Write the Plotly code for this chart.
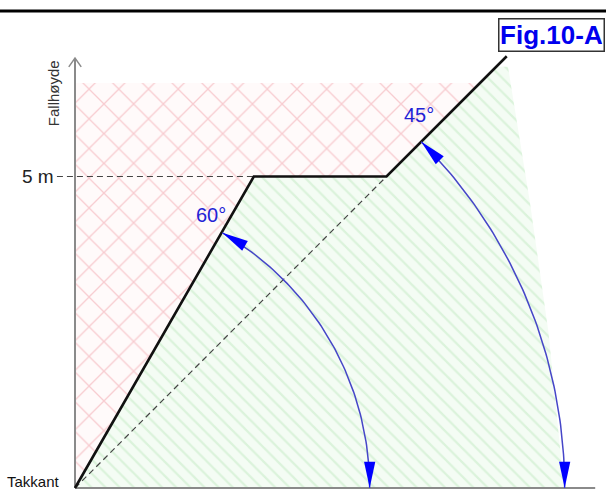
"""
Fall-height diagram (Fig.10-A): roof edge profile with 60 deg / 45 deg
limits, red cross-hatched danger zone and green hatched safe zone.
"""

import numpy as np
import plotly.graph_objects as go

# Scene scale: metres, origin at the roof edge ("Takkant").
# Profile of the black boundary line.
PROFILE_X = [0.0, 2.87, 5.0, 6.93]
PROFILE_Y = [0.0, 5.0, 5.0, 6.93]

# 45 deg reference (dashed) from the edge to the 5 m level.
DIAG_X = [0.0, 5.0]
DIAG_Y = [0.0, 5.0]

HEIGHT_MARK = 5.0
HEIGHT_LABEL = "5 m"

# Zones.
RED_X = [0.0, 0.0, 6.5, 5.0, 2.87, 0.0]
RED_Y = [0.0, 6.5, 6.5, 5.0, 5.0, 0.0]
GREEN_X = [0.0, 2.87, 5.0, 6.76, 6.95, 7.3, 7.6, 7.85, 0.0]
GREEN_Y = [0.0, 5.0, 5.0, 6.76, 6.76, 4.6, 2.5, 0.0, 0.0]

# Angle arcs.
ARC_ANGLES = [60, 45]
ARC_RADII = [4.73, 7.86]
ARC_LABELS = ["60°", "45°"]
ARC_LABEL_POS = [(2.18, 4.39), (5.52, 5.99)]

# Axes.
AXIS_X_END = 8.35
AXIS_Y_END = 6.9

PX_PER_M = 62.3
W, H = 606, 491
ORIGIN_PX = (75, 488)

FONT = "Arial, Liberation Sans, sans-serif"
ARC_COLOR = "rgb(70,70,200)"
HEAD_COLOR = "#0000ff"


def arrow_head(tip, direction, length=0.42, half_width=0.09):
    """Triangle (in data units) with its point at tip, pointing along direction."""
    d = np.array(direction, dtype=float)
    d /= np.linalg.norm(d)
    n = np.array([-d[1], d[0]])
    tip = np.array(tip, dtype=float)
    base = tip - d * length
    pts = [tip, base + n * half_width, base - n * half_width, tip]
    return [p[0] for p in pts], [p[1] for p in pts]


def build_figure():
    fig = go.Figure()

    # Red (danger) zone, cross hatched.
    fig.add_trace(go.Scatter(
        x=RED_X, y=RED_Y, mode="lines", fill="toself",
        line=dict(width=0), fillcolor="rgba(255,246,247,0.6)",
        fillpattern=dict(shape="x", size=21, solidity=0.12,
                         fgcolor="rgba(232,105,120,0.65)", fillmode="overlay"),
        hoverinfo="skip",
    ))

    # Green (safe) zone, single hatch.
    fig.add_trace(go.Scatter(
        x=GREEN_X, y=GREEN_Y, mode="lines", fill="toself",
        line=dict(width=0), fillcolor="rgba(240,251,240,0.7)",
        fillpattern=dict(shape="\\", size=10, solidity=0.22,
                         fgcolor="rgba(160,220,160,0.6)", fillmode="overlay"),
        hoverinfo="skip",
    ))

    # Dashed helper lines.
    dash = dict(color="#444444", width=1.2, dash="6px,4px")
    fig.add_trace(go.Scatter(x=DIAG_X, y=DIAG_Y, mode="lines", line=dash,
                             hoverinfo="skip"))
    fig.add_trace(go.Scatter(x=[-0.29, PROFILE_X[1]],
                             y=[HEIGHT_MARK, HEIGHT_MARK],
                             mode="lines", line=dash, hoverinfo="skip"))

    # Axes with open arrow on the vertical one.
    axis = dict(color="#8a8a8a", width=2)
    fig.add_trace(go.Scatter(x=[0, 0], y=[0, AXIS_Y_END], mode="lines",
                             line=axis, hoverinfo="skip"))
    fig.add_trace(go.Scatter(x=[0, AXIS_X_END], y=[0, 0], mode="lines",
                             line=axis, hoverinfo="skip"))
    fig.add_trace(go.Scatter(x=[-0.1, 0, 0.1],
                             y=[AXIS_Y_END - 0.14, AXIS_Y_END, AXIS_Y_END - 0.14],
                             mode="lines", line=dict(color="#8a8a8a", width=1.5),
                             hoverinfo="skip"))

    # Boundary profile.
    fig.add_trace(go.Scatter(x=PROFILE_X, y=PROFILE_Y, mode="lines",
                             line=dict(color="#111111", width=2.6),
                             hoverinfo="skip"))

    # Angle arcs with arrow heads on both ends.
    for ang, r in zip(ARC_ANGLES, ARC_RADII):
        t = np.radians(np.linspace(0, ang, 80))
        fig.add_trace(go.Scatter(x=r * np.cos(t), y=r * np.sin(t), mode="lines",
                                 line=dict(color=ARC_COLOR, width=1.5),
                                 hoverinfo="skip"))
        a = np.radians(ang)
        hx, hy = arrow_head((r * np.cos(a), r * np.sin(a)), (-np.sin(a), np.cos(a)))
        fig.add_trace(go.Scatter(x=hx, y=hy, mode="lines", fill="toself",
                                 fillcolor=HEAD_COLOR, line=dict(width=0),
                                 hoverinfo="skip"))
        hx, hy = arrow_head((r, 0.0), (0, -1))
        fig.add_trace(go.Scatter(x=hx, y=hy, mode="lines", fill="toself",
                                 fillcolor=HEAD_COLOR, line=dict(width=0),
                                 hoverinfo="skip"))

    for label, (lx, ly) in zip(ARC_LABELS, ARC_LABEL_POS):
        fig.add_annotation(x=lx, y=ly, text=label, showarrow=False,
                           font=dict(family=FONT, size=20, color="#2323d6"))

    # Text labels.
    fig.add_annotation(x=-0.31, y=HEIGHT_MARK, text=HEIGHT_LABEL, showarrow=False,
                       xanchor="right", font=dict(family=FONT, size=19, color="#222"))
    fig.add_annotation(x=-0.345, y=6.33, text="Fallhøyde", showarrow=False,
                       textangle=-90, font=dict(family=FONT, size=15, color="#333"))
    fig.add_annotation(x=-0.67, y=0.1, text="Takkant", showarrow=False,
                       font=dict(family=FONT, size=15, color="#111"))

    fig.add_annotation(xref="paper", yref="paper", x=551.5 / W, y=1 - 35.5 / H,
                       xanchor="center", yanchor="middle",
                       text="<b>Fig.10-A</b>", showarrow=False,
                       font=dict(family=FONT, size=26, color="#0000ee"),
                       bgcolor="white", bordercolor="#333333", borderwidth=1.5,
                       borderpad=1, width=102, height=29)

    # Top rule.
    fig.add_shape(type="line", xref="paper", yref="paper",
                  x0=0, x1=1, y0=1 - 11 / H, y1=1 - 11 / H,
                  line=dict(color="black", width=3))

    ox, oy = ORIGIN_PX
    fig.update_layout(
        width=W, height=H,
        margin=dict(l=0, r=0, t=0, b=0, pad=0),
        showlegend=False,
        plot_bgcolor="white", paper_bgcolor="white",
        xaxis=dict(range=[-ox / PX_PER_M, (W - ox) / PX_PER_M], visible=False),
        yaxis=dict(range=[-(H - oy) / PX_PER_M, oy / PX_PER_M], visible=False),
    )
    return fig


def main():
    fig = build_figure()
    fig.write_html("out.html",
                   config={"displayModeBar": False},
                   post_script="document.body.style.margin='0px';"
                               "document.body.style.overflow='hidden';")


if __name__ == "__main__":
    main()
